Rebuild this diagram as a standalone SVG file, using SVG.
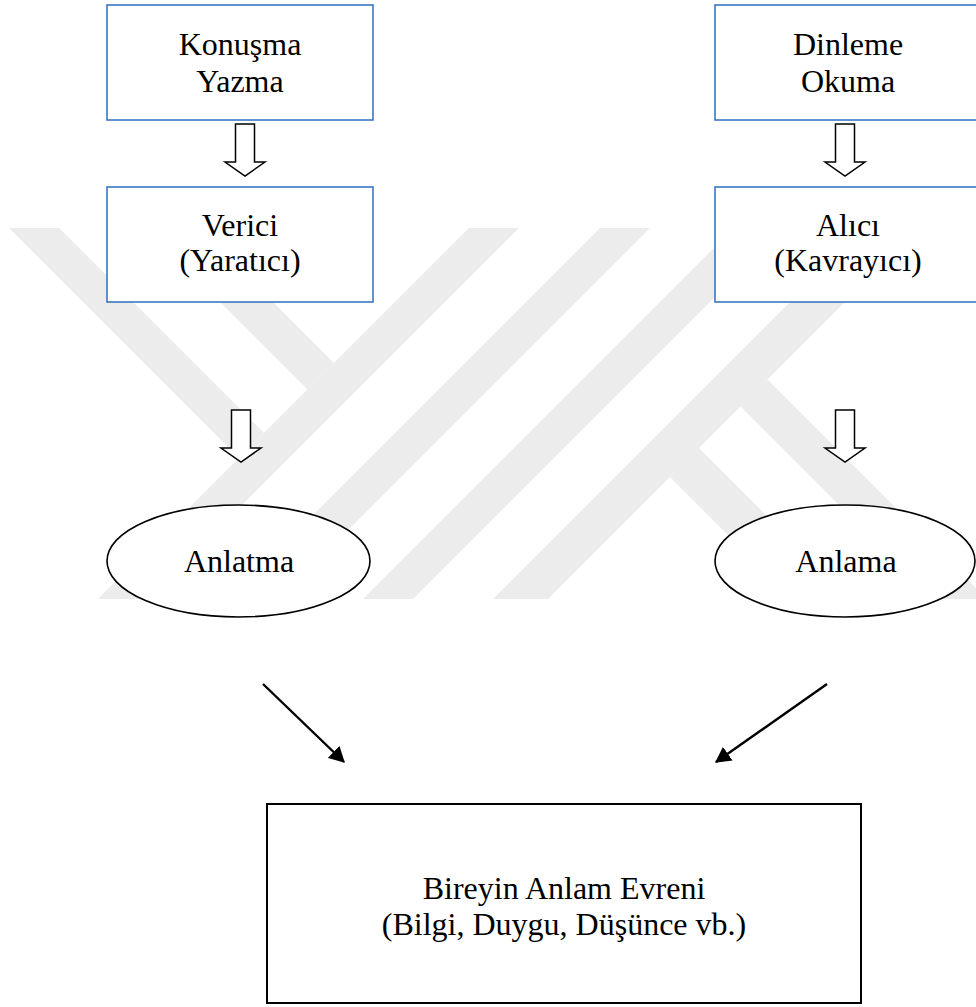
<svg xmlns="http://www.w3.org/2000/svg" xmlns:xlink="http://www.w3.org/1999/xlink" width="976" height="1007" viewBox="0 0 976 1007">
  <style>
    .box { fill: #ffffff; stroke: #2f6fbf; stroke-width: 1.5; }
    .main { fill: #ffffff; stroke: #000000; stroke-width: 2; }
    .oval { fill: #ffffff; stroke: #000000; stroke-width: 1.6; }
    .lbl { font-family: "Liberation Serif", "Times New Roman", serif; font-size: 32px; fill: #000000; text-anchor: middle; }
    .block { fill: #ffffff; stroke: #000000; stroke-width: 1.5; stroke-linejoin: miter; }
    .diag { stroke: #000000; stroke-width: 2.4; fill: none; marker-end: url(#head); }
    .mark { fill: #ececec; stroke: none; }
  </style>
  <defs>
    <!-- hollow down arrow, origin at top centre of the shaft -->
    <path id="down" d="M-9.5,0 H9.5 V38 H20 L0,52 L-20,38 H-9.5 Z"/>
    <marker id="head" markerWidth="7" markerHeight="7" refX="6" refY="3.5" orient="auto" markerUnits="strokeWidth">
      <path d="M0,0 L6.5,3.5 L0,7 Z" fill="#000000"/>
    </marker>
  </defs>

  <rect width="976" height="1007" fill="#ffffff"/>

  <!-- background logo stripes -->
  <g id="backdrop">
    <polygon class="mark" points="9,228 59,228 264,433 239,458"/>
    <polygon class="mark" points="146,228 199,228 334,363 307.5,389.5"/>
    <polygon class="mark" points="469,228 519,228 148,599 98,599"/>
    <polygon class="mark" points="600,228 650,228 279,599 229,599"/>
    <polygon class="mark" points="734,228 784,228 413,599 363,599"/>
    <polygon class="mark" points="864,228 919,228 548,599 493,599"/>
    <polygon class="mark" points="767.5,379.5 987,599 933,599 740.5,406.5"/>
    <polygon class="mark" points="699,448 850,599 792,599 670,477"/>
  </g>

  <g id="connectors">
    <use href="#down" class="block" transform="translate(245,124)"/>
    <use href="#down" class="block" transform="translate(845,124)"/>
    <use href="#down" class="block" transform="translate(241,410)"/>
    <use href="#down" class="block" transform="translate(845,410)"/>
    <path class="diag" d="M263,684 L344,762"/>
    <path class="diag" d="M827,684 L716,762"/>
  </g>

  <g id="konusma">
    <rect class="box" x="107" y="5" width="266" height="115"/>
    <text class="lbl" x="240" y="55">Konuşma</text>
    <text class="lbl" x="240" y="92">Yazma</text>
  </g>

  <g id="dinleme">
    <rect class="box" x="715" y="5" width="266" height="115"/>
    <text class="lbl" x="848" y="55">Dinleme</text>
    <text class="lbl" x="848" y="92">Okuma</text>
  </g>

  <g id="verici">
    <rect class="box" x="107" y="187" width="266" height="115"/>
    <text class="lbl" x="240" y="236">Verici</text>
    <text class="lbl" x="240" y="271">(Yaratıcı)</text>
  </g>

  <g id="alici">
    <rect class="box" x="715" y="187" width="266" height="115"/>
    <text class="lbl" x="848" y="236">Alıcı</text>
    <text class="lbl" x="848" y="271">(Kavrayıcı)</text>
  </g>

  <g id="anlatma">
    <ellipse class="oval" cx="238.5" cy="561" rx="131.5" ry="56"/>
    <text class="lbl" x="239" y="572">Anlatma</text>
  </g>

  <g id="anlama">
    <ellipse class="oval" cx="845" cy="561" rx="130" ry="56"/>
    <text class="lbl" x="846" y="572">Anlama</text>
  </g>

  <g id="anlam-evreni">
    <rect class="main" x="267" y="804" width="594" height="199"/>
    <text class="lbl" x="564" y="899">Bireyin Anlam Evreni</text>
    <text class="lbl" x="564" y="935">(Bilgi, Duygu, Düşünce vb.)</text>
  </g>
</svg>
